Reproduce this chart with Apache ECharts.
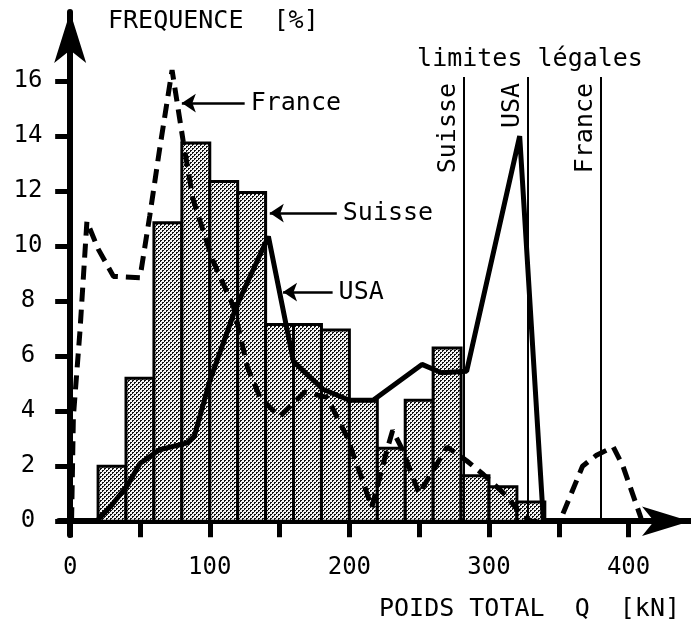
<!DOCTYPE html>
<html>
<head>
<meta charset="utf-8">
<script src="https://cdn.jsdelivr.net/npm/echarts@6/dist/echarts.min.js"></script>
<style>
html,body{margin:0;padding:0;background:#fff;}
#chart{width:691px;height:628px;}
</style>
</head>
<body>
<div id="chart"></div>
<script>
// ---- data ----
const binEdges = [20,40,60,80,100,120,140,160,180,200,220,240,260,280,300,320,340];
const swissFreq = [2.0,5.2,10.85,13.75,12.35,11.95,7.15,7.15,6.95,4.4,2.65,4.4,6.3,1.65,1.25,0.7];

const franceQ = [1,2.3,7,12,20,31,50,57,64,73,81,88,102,117,127,136,150,168,184,198,210,216,227,231,238,250,270,284,296,313,322,330,350,352,367,377,389,396,409];
const franceF = [0,3.8,6.9,10.9,9.9,8.9,8.85,11.1,13.5,16.4,13.8,11.7,9.5,7.8,5.6,4.5,3.8,4.7,4.5,3.1,1.4,0.5,2.6,3.3,2.6,1.0,2.7,2.2,1.7,0.9,0.3,0,0,0.15,2.0,2.4,2.7,2.0,0.1];

const usaQ = [19,30,41,50,64,84,89,100,119,142,160,181,200,217,252,266,284,322,339];
const usaF = [0,0.6,1.3,2.1,2.6,2.85,3.1,5.1,7.8,10.35,5.8,4.8,4.4,4.4,5.7,5.4,5.45,14.0,0];

const legalNames = ['Suisse','USA','France'];
const legalQ = [282,328,380];
const legalTop = 16.15;

const yTicks = [0,2,4,6,8,10,12,14,16];
const xTicks = [0,50,100,150,200,250,300,350,400];
const xLabels = [0,100,200,300,400];

// ---- chart ----
const FONT = '"DejaVu Sans Mono", "Liberation Mono", monospace';

function makePattern(){
  const c = document.createElement('canvas');
  c.width = 4; c.height = 4;
  const g = c.getContext('2d');
  g.fillStyle = '#f4f4f4'; g.fillRect(0,0,4,4);
  g.fillStyle = '#111';
  g.fillRect(0,0,2,1); g.fillRect(0,1,1,1);
  g.fillRect(2,2,2,1); g.fillRect(2,3,1,1);
  return c;
}
const pattern = {image: makePattern(), repeat: 'repeat'};

const histData = swissFreq.map((v,i)=>[binEdges[i], binEdges[i+1], v]);

const chart = echarts.init(document.getElementById('chart'), null, {renderer:'canvas'});
const option = {
  animation: false,
  backgroundColor: '#fff',
  title: [
    {text: 'FREQUENCE  [%]', left: 108, top: 9, padding: 0,
     textStyle: {fontFamily: FONT, fontSize: 25, fontWeight: 'normal', color: '#000'}},
    {text: 'POIDS TOTAL  Q  [kN]', left: 379, top: 597, padding: 0,
     textStyle: {fontFamily: FONT, fontSize: 25, fontWeight: 'normal', color: '#000'}}
  ],
  graphic: [
    {type: 'text', x: 530, y: 59, z: 10,
     style: {text: 'limites légales', fill: '#000', font: '25px ' + FONT, align: 'center', verticalAlign: 'middle'}}
  ],
  grid: {left: 59, right: 1, top: 12, bottom: 93, containLabel: false},
  xAxis: {
    type: 'value', min: -8, max: 444,
    axisLine: {onZero: true, lineStyle: {color: '#000', width: 6},
      symbol: ['none','arrow'], symbolSize: [22, 48], symbolOffset: [0, 0]},
    axisTick: {show: true, length: 16, inside: false, customValues: xTicks,
      lineStyle: {color: '#000', width: 5}},
    axisLabel: {show: true, customValues: xLabels, margin: 21,
      fontFamily: FONT, fontSize: 24, color: '#000'},
    splitLine: {show: false}
  },
  yAxis: {
    type: 'value', min: -0.5, max: 18.51,
    axisLine: {onZero: true, lineStyle: {color: '#000', width: 6},
      symbol: ['none','arrow'], symbolSize: [24, 51], symbolOffset: [0, 0]},
    axisTick: {show: true, length: 15, inside: false, customValues: yTicks,
      lineStyle: {color: '#000', width: 5}},
    axisLabel: {show: true, customValues: yTicks, margin: 31, align: 'center',
      fontFamily: FONT, fontSize: 24, color: '#000'},
    splitLine: {show: false}
  },
  series: [
    {
      name: 'Suisse', type: 'custom', z: 1,
      data: histData,
      encode: {x: [0,1], y: 2},
      renderItem: function(params, api){
        const p0 = api.coord([api.value(0), 0]);
        const p1 = api.coord([api.value(1), api.value(2)]);
        return {type: 'rect',
          shape: {x: p0[0], y: p1[1], width: p1[0]-p0[0], height: p0[1]-p1[1]},
          style: {fill: pattern, stroke: '#000', lineWidth: 3}};
      },
      markLine: {
        silent: true, symbol: ['none','none'], animation: false,
        lineStyle: {color: '#000', width: 2, type: 'solid'},
        label: {show: true, position: 'insideEndTop', formatter: '{b}', distance: [6, 3],
          fontFamily: FONT, fontSize: 25, color: '#000'},
        data: legalNames.map((n,i)=>[{name: n, coord: [legalQ[i], 0]}, {coord: [legalQ[i], legalTop]}])
      }
    },
    {
      name: 'France', type: 'line', z: 3,
      data: franceQ.map((q,i)=>[q, franceF[i]]),
      showSymbol: false, symbol: 'none',
      lineStyle: {color: '#000', width: 5, type: [14, 8], cap: 'butt'},
      markLine: {
        silent: true, symbol: ['none','arrow'], symbolSize: 14, animation: false,
        lineStyle: {color: '#000', width: 2.5, type: 'solid'},
        label: {show: true, position: 'start', formatter: '{b}', distance: 6,
          fontFamily: FONT, fontSize: 25, color: '#000'},
        data: [[{name: 'France', coord: [125, 15.2]}, {coord: [80, 15.2]}]]
      }
    },
    {
      name: 'USA', type: 'line', z: 4,
      data: usaQ.map((q,i)=>[q, usaF[i]]),
      showSymbol: false, symbol: 'none',
      lineStyle: {color: '#000', width: 5, type: 'solid'},
      markLine: {
        silent: true, symbol: ['none','arrow'], symbolSize: 14, animation: false,
        lineStyle: {color: '#000', width: 2.5, type: 'solid'},
        label: {show: true, position: 'start', formatter: '{b}', distance: 6,
          fontFamily: FONT, fontSize: 25, color: '#000'},
        data: [
          [{name: 'Suisse', coord: [191, 11.2]}, {coord: [143, 11.2]}],
          [{name: 'USA', coord: [188, 8.33]}, {coord: [152.5, 8.33]}]
        ]
      }
    }
  ]
};
chart.setOption(option);
</script>
</body>
</html>
